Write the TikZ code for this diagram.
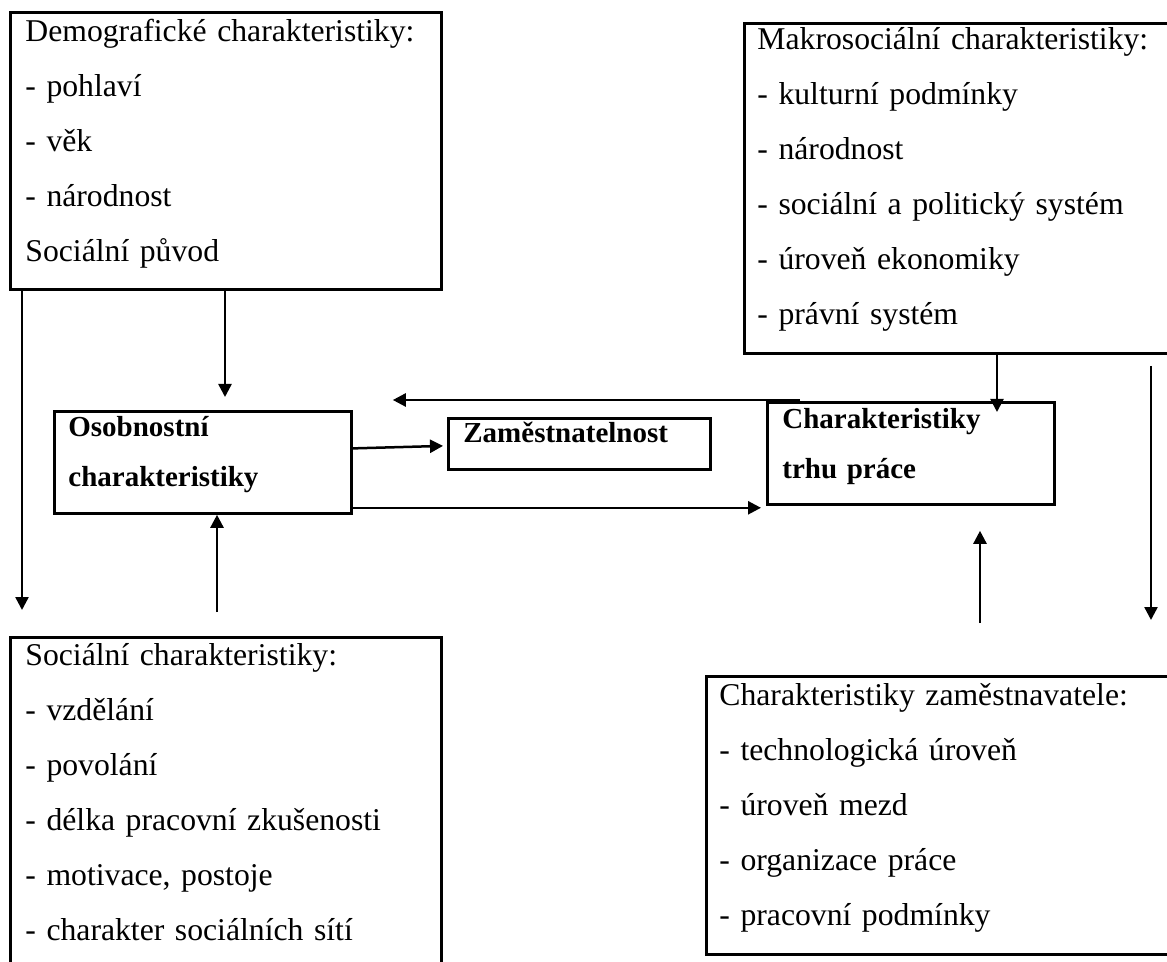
\documentclass[tikz,border=0pt]{standalone}
\usepackage{fontspec}
\setmainfont{Liberation Serif}
\usetikzlibrary{arrows.meta}

\tikzset{
    box/.style={draw, line width=1.4pt, anchor=north west, inner sep=0pt},
    txt/.style={anchor=base west, align=left, inner sep=0pt, text width=215pt,
        font=\fontsize{15.85}{27.5}\selectfont},
    bold/.style={anchor=base west, align=left, inner sep=0pt, text width=150pt,
        font=\fontsize{14.5}{25}\selectfont\bfseries},
    arr/.style={-{Triangle[length=6.5pt, width=6.5pt]}, line width=1.25pt}
}

\begin{document}
\begin{tikzpicture}[x=0.5pt, y=-0.5pt]
    \useasboundingbox (0,0) rectangle (1167,962);

    % boxes
    \node[box, minimum width=215.5pt, minimum height=138.5pt] at (9,11)   (demo) {};
    \node[box, minimum width=214.5pt, minimum height=165pt]   at (743,22) (makro) {};
    \node[box, minimum width=148.5pt, minimum height=51pt]    at (53,410) (osob) {};
    \node[box, minimum width=131pt,   minimum height=25.5pt]  at (447,417) (zam) {};
    \node[box, minimum width=143.5pt, minimum height=51pt]    at (766,401) (trh) {};
    \node[box, minimum width=215.5pt, minimum height=170pt]   at (9,636)  (soc) {};
    \node[box, minimum width=234pt,   minimum height=139pt]   at (705,675) (firm) {};

    % texts
    \node[txt] at (25,42) (demotxt) {Demografické charakteristiky:\\- pohlaví\\- věk\\- národnost\\Sociální původ};
    \node[txt] at (757,50) (makrotxt) {Makrosociální charakteristiky:\\- kulturní podmínky\\- národnost\\- sociální a politický systém\\- úroveň ekonomiky\\- právní systém};
    \node[bold] at (68,437) (osobtxt) {Osobnostní\\charakteristiky};
    \node[bold] at (463,443) (zamtxt) {Zaměstnatelnost};
    \node[bold] at (782,429) (trhtxt) {Charakteristiky\\trhu práce};
    \node[txt] at (25,665) (soctxt) {Sociální charakteristiky:\\- vzdělání\\- povolání\\- délka pracovní zkušenosti\\- motivace, postoje\\- charakter sociálních sítí};
    \node[txt] at (719,705) (firmtxt) {Charakteristiky zaměstnavatele:\\- technologická úroveň\\- úroveň mezd\\- organizace práce\\- pracovní podmínky};

    % connectors
    \draw[arr] ([xshift=108pt]demo.south west) -- ([xshift=86pt, yshift=6.5pt]osob.north west);
    \draw[arr] ([xshift=6.5pt]demo.south west) -- ([xshift=6.5pt, yshift=13pt]soc.north west);
    \draw[arr] ([xshift=104pt, yshift=12pt]soc.north west) -- ([xshift=82pt]osob.south west);
    \draw[arr] ([yshift=7pt]osob.east) -- ([xshift=-2pt, yshift=-1pt]zam.west);
    \draw[arr] ([yshift=3.5pt]osob.south east) -- ([xshift=-2.5pt, yshift=-1pt]trh.south west);
    \draw[arr] ([xshift=17pt, yshift=0.5pt]trh.north west) -- ([xshift=20pt, yshift=5pt]osob.north east);
    \draw[arr] ([xshift=127pt]makro.south west) -- ([xshift=115.5pt, yshift=-5.5pt]trh.north west);
    \draw[arr] ([xshift=204pt, yshift=-5.5pt]makro.south west) -- ([xshift=223pt, yshift=27.5pt]firm.north west);
    \draw[arr] ([xshift=137.5pt, yshift=26pt]firm.north west) -- ([xshift=107pt, yshift=-12.5pt]trh.south west);
\end{tikzpicture}
\end{document}
